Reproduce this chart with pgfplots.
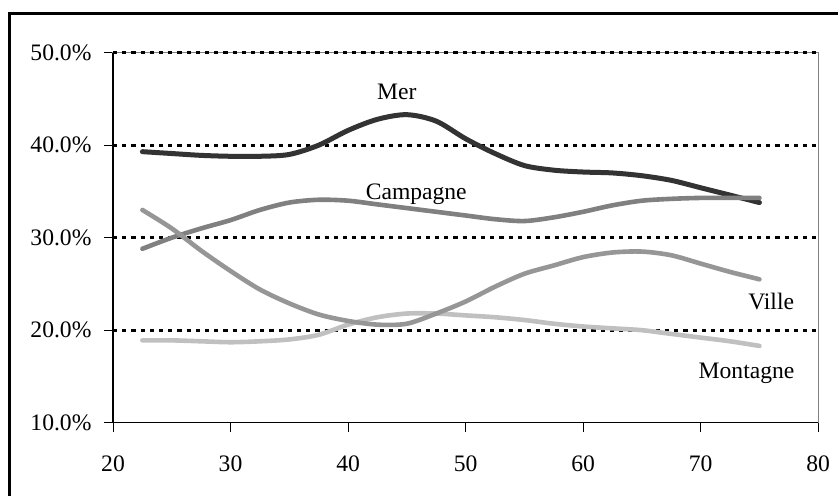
\documentclass[border=0pt]{standalone}
\usepackage{fontspec}
\setmainfont{Liberation Serif}
\usepackage{pgfplots}
\pgfplotsset{compat=1.18}
\definecolor{cmer}{RGB}{51,51,51}
\definecolor{ccamp}{RGB}{128,128,128}
\definecolor{cville}{RGB}{150,150,150}
\definecolor{cmont}{RGB}{192,192,192}
\newcommand{\lf}{\fontsize{11.8pt}{14pt}\selectfont}
\begin{document}
\begin{tikzpicture}
\path[use as bounding box] (0,0) rectangle (419pt,248pt);
\draw[black, line width=1.3pt] (4.65pt,-5pt) -- (4.65pt,241.35pt) -- (430pt,241.35pt);
\begin{axis}[
  at={(56.5pt,36.65pt)}, anchor=south west,
  scale only axis, width=352.6pt, height=185pt,
  xmin=20, xmax=80, ymin=10, ymax=50,
  xtick={20,30,...,80}, ytick={10,20,...,50},
  xtick pos=bottom, ytick pos=left,
  tick align=outside, major tick length=4.5pt,
  tick style={black, line width=0.5pt},
  axis line style={draw=gray, line width=0.6pt},
  extra y ticks={20,30,40,50},
  extra y tick labels={},
  extra tick style={grid=major, major tick length=0pt},
  grid style={black, line width=1.4pt, dash pattern=on 2.1pt off 2.5pt},
  /pgf/number format/assume math mode=true,
  every tick label/.append style={font=\lf},
  yticklabel={\pgfmathprintnumber[fixed,fixed zerofill,precision=1]{\tick}\%},
  yticklabel style={xshift=-2.75pt},
  xticklabel style={yshift=-8.3pt},
  clip=false,
]
\draw[black, line width=0.6pt] (rel axis cs:0,1) -- (rel axis cs:0,0) -- (rel axis cs:1,0);
\addplot[cmont, line width=2.3pt, smooth, line cap=round] coordinates {
(22.5,18.9) (25,18.9) (27.5,18.8) (30,18.7) (32.5,18.8) (35,19.0) (37.5,19.5) (40,20.6) (42.5,21.4) (45,21.8) (47.5,21.8) (50,21.6) (52.5,21.4) (55,21.1) (57.5,20.7) (60,20.4) (62.5,20.2) (65,20.0) (67.5,19.6) (70,19.2) (72.5,18.8) (75,18.3)};
\addplot[cmer, line width=2.5pt, smooth, line cap=round] coordinates {
(22.5,39.3) (25,39.1) (27.5,38.9) (30,38.8) (32.5,38.8) (35,39.0) (37.5,40.0) (40,41.6) (42.5,42.8) (45,43.3) (47.5,42.6) (50,40.7) (52.5,39.1) (55,37.8) (57.5,37.3) (60,37.1) (62.5,37.0) (65,36.7) (67.5,36.2) (70,35.4) (72.5,34.6) (75,33.8)};
\addplot[ccamp, line width=2.3pt, smooth, line cap=round] coordinates {
(22.5,28.8) (25,30.0) (27.5,31.0) (30,31.9) (32.5,33.0) (35,33.8) (37.5,34.1) (40,34.0) (42.5,33.6) (45,33.2) (47.5,32.8) (50,32.4) (52.5,32.0) (55,31.8) (57.5,32.2) (60,32.8) (62.5,33.5) (65,34.0) (67.5,34.2) (70,34.3) (72.5,34.3) (75,34.3)};
\addplot[cville, line width=2.3pt, smooth, line cap=round] coordinates {
(22.5,33.0) (25,31.0) (27.5,28.6) (30,26.4) (32.5,24.4) (35,22.9) (37.5,21.7) (40,21.0) (42.5,20.6) (45,20.7) (47.5,21.8) (50,23.1) (52.5,24.7) (55,26.1) (57.5,27.0) (60,27.9) (62.5,28.4) (65,28.5) (67.5,28.1) (70,27.2) (72.5,26.3) (75,25.5)};
\node[anchor=base, font=\lf] at (axis cs:44.15,44.96) {Mer};
\node[anchor=base, font=\lf] at (axis cs:45.8,34.08) {Campagne};
\node[anchor=base, font=\lf] at (axis cs:76.0,22.29) {Ville};
\node[anchor=base, font=\lf] at (axis cs:73.9,14.83) {Montagne};
\end{axis}
\end{tikzpicture}
\end{document}
